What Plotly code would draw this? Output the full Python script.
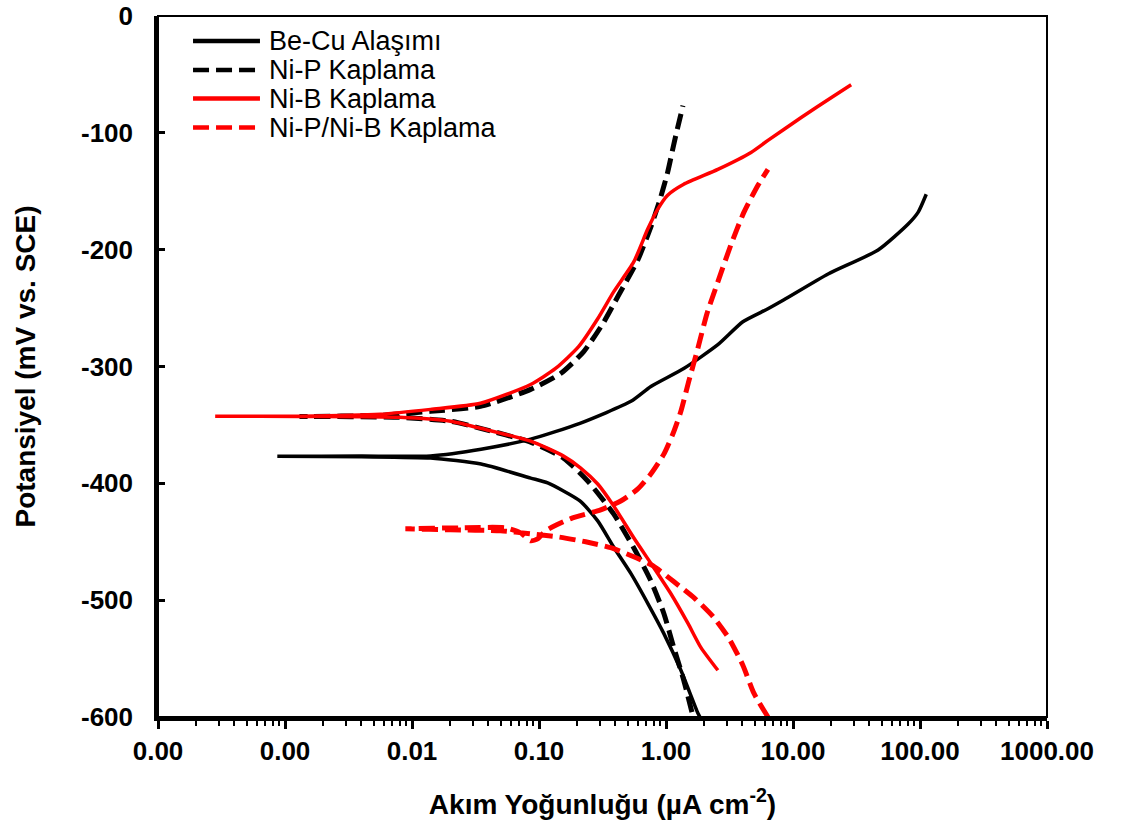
import plotly.graph_objects as go

# Polarisation (Tafel) curves: current density in µA cm^-2, potential in mV vs. SCE.
# Each curve is stored as its cathodic branch (from -600 mV up to Ecorr) and its
# anodic branch (from Ecorr upward).

becu_cath_i = [1.85, 1.78, 1.31, 0.96, 0.72, 0.53, 0.39, 0.29, 0.21, 0.117, 0.086, 0.035, 0.014, 0.004, 0.00087]
becu_cath_E = [-600, -596.6, -560.0, -528.4, -502.9, -477.3, -455.1, -432.1, -415.1, -399.7, -395.5, -383.5, -378.4, -377.3, -376.8]
becu_anod_i = [0.00087, 0.004, 0.014, 0.035, 0.086, 0.21, 0.53, 0.76, 1.38, 2.56, 4.03, 6.35, 8.49, 18.9, 46.8, 80.7, 96.8, 112]
becu_anod_E = [-376.8, -376.7, -376.5, -370.8, -362.2, -348.6, -329.8, -317.1, -301.7, -281.3, -261.7, -250.6, -242.9, -220.8, -200.3, -178.1, -167.9, -152.6]

nip_cath_i = [1.60, 1.38, 1.15, 0.962, 0.759, 0.557, 0.387, 0.242, 0.156, 0.0859, 0.0346, 0.0201, 0.008, 0.0013]
nip_cath_E = [-595.8, -568.5, -540.4, -511.4, -483.3, -455.1, -426.2, -398.0, -378.4, -364.8, -352.9, -346.9, -343.5, -342.8]
nip_anod_i = [0.0013, 0.00564, 0.014, 0.0346, 0.0859, 0.148, 0.225, 0.318, 0.425, 0.600, 0.759, 0.893, 1.03, 1.17, 1.36]
nip_anod_E = [-342.8, -341.8, -338.4, -334.1, -319.6, -306.0, -287.2, -263.4, -238.6, -208.8, -180.7, -157.7, -133.8, -106.5, -76.7]

nib_cath_i = [2.56, 1.88, 1.49, 1.09, 0.802, 0.557, 0.387, 0.290, 0.213, 0.156, 0.0859, 0.0346, 0.0201, 0.008, 0.00132, 0.000282]
nib_cath_E = [-560.0, -540.4, -519.9, -494.3, -472.2, -446.6, -419.3, -400.6, -386.9, -376.7, -363.9, -352.9, -346.9, -343.5, -342.8, -342.6]
nib_anod_i = [0.000282, 0.00132, 0.00564, 0.014, 0.0346, 0.0859, 0.135, 0.205, 0.290, 0.387, 0.557, 0.718, 0.861, 1.03, 1.38, 2.56, 4.67, 6.35, 11.6, 21.1, 28.7]
nib_anod_E = [-342.6, -342.6, -340.9, -336.7, -331.5, -315.4, -301.7, -283.0, -259.1, -236.1, -210.5, -182.4, -165.3, -153.4, -144.0, -131.3, -116.8, -106.5, -86.9, -68.2, -58.8]

nipb_cath_i = [6.35, 4.92, 4.03, 3.13, 2.34, 1.69, 1.15, 0.787, 0.557, 0.367, 0.233, 0.140, 0.0859, 0.0498, 0.0201, 0.00887]
nipb_cath_E = [-600.0, -579.6, -555.7, -532.7, -513.9, -498.6, -484.1, -470.5, -462.8, -455.1, -450.0, -445.8, -443.2, -440.6, -439.8, -438.9]
nipb_anod_i = [0.00887, 0.0241, 0.0546, 0.0716, 0.0859, 0.0975, 0.113, 0.138, 0.184, 0.306, 0.440, 0.600, 0.759, 0.962, 1.13, 1.31, 1.51, 1.78, 2.10, 2.56, 3.24, 4.11, 5.30, 6.35]
nipb_anod_E = [-438.9, -438.1, -438.1, -442.4, -449.2, -447.5, -440.6, -435.5, -429.6, -422.7, -415.1, -404.8, -392.1, -375.0, -358.0, -338.4, -312.8, -284.7, -254.8, -227.6, -196.0, -167.9, -144.9, -131.3]

series_names = ["Be-Cu Alaşımı", "Ni-P Kaplama", "Ni-B Kaplama", "Ni-P/Ni-B Kaplama"]

x_tickvals = [0.0001, 0.001, 0.01, 0.1, 1, 10, 100, 1000]
x_ticktext = ["0.00", "0.00", "0.01", "0.10", "1.00", "10.00", "100.00", "1000.00"]
y_tickvals = [0, -100, -200, -300, -400, -500, -600]
y_ticktext = ["0", "-100", "-200", "-300", "-400", "-500", "-600"]

FONT = "Liberation Sans, Arial, sans-serif"
DASH = "16px,7px"

styles = [
    ("black", "solid", 3.5),
    ("black", DASH, 5),
    ("#ff0000", "solid", 3.5),
    ("#ff0000", DASH, 5),
]
curves = [
    (becu_cath_i + becu_anod_i, becu_cath_E + becu_anod_E),
    (nip_cath_i + nip_anod_i, nip_cath_E + nip_anod_E),
    (nib_cath_i + nib_anod_i, nib_cath_E + nib_anod_E),
    (nipb_cath_i + nipb_anod_i, nipb_cath_E + nipb_anod_E),
]

fig = go.Figure()
for name, (xs, ys), (color, dash, width) in zip(series_names, curves, styles):
    fig.add_trace(go.Scatter(
        x=xs, y=ys, mode="lines", name=name, showlegend=False,
        line=dict(color=color, dash=dash, width=width, shape="spline", smoothing=0.6),
    ))

# key in the upper-left corner of the plot area: sample line + label per series
key_x0, key_x1, key_text_x = 0.0394, 0.1147, 0.1226
key_rows = [0.9643, 0.9230, 0.8823, 0.8409]
for name, (color, dash, width), yk in zip(series_names, styles, key_rows):
    fig.add_shape(type="line", xref="paper", yref="paper",
                  x0=key_x0, x1=key_x1, y0=yk, y1=yk,
                  line=dict(color=color, dash=dash, width=4.5))
    fig.add_annotation(xref="paper", yref="paper", x=key_text_x, y=yk,
                       xanchor="left", yanchor="middle", showarrow=False,
                       text=name, font=dict(family=FONT, size=27, color="black"))

# minor ticks at 2..9 of every decade
minor_vals = [k * 10.0 ** p for p in range(-4, 3) for k in range(2, 10)]

fig.update_xaxes(
    type="log", range=[-4, 3], automargin=False,
    tickmode="array", tickvals=x_tickvals, ticktext=x_ticktext,
    ticks="outside", ticklen=8, tickwidth=2.5, tickcolor="black",
    minor=dict(tickmode="array", tickvals=minor_vals, ticks="outside", ticklen=5, tickwidth=2, tickcolor="black", showgrid=False),
    showline=True, linecolor="black", linewidth=3.5,
    showgrid=False, zeroline=False,
    tickfont=dict(family=FONT, size=26, color="black", weight="bold"),
    title=dict(text="Akım Yoğunluğu (µA cm<sup>-2</sup>)", standoff=30,
               font=dict(family=FONT, size=28, color="black", weight="bold")),
)
fig.update_yaxes(
    range=[-600, 0], automargin=False,
    tickmode="array", tickvals=y_tickvals, ticktext=y_ticktext,
    ticks="inside", ticklen=7, tickwidth=2.5, tickcolor="black",
    ticklabelstandoff=16, ticklabeloverflow="allow",
    showline=True, linecolor="black", linewidth=3.5,
    showgrid=False, zeroline=False,
    tickfont=dict(family=FONT, size=26, color="black", weight="bold"),
    title=dict(text="Potansiyel (mV vs. SCE)", standoff=38,
               font=dict(family=FONT, size=28, color="black", weight="bold")),
)

# thin frame around the plot area
fig.add_shape(type="rect", xref="paper", yref="paper", x0=0, y0=0, x1=1, y1=1,
              line=dict(color="black", width=2), layer="above")

fig.update_layout(
    width=1121, height=832,
    margin=dict(l=158, r=74, t=16, b=115),
    paper_bgcolor="white", plot_bgcolor="white",
    font=dict(family=FONT, color="black"),
    showlegend=False,
)

fig.write_html("out.html")
